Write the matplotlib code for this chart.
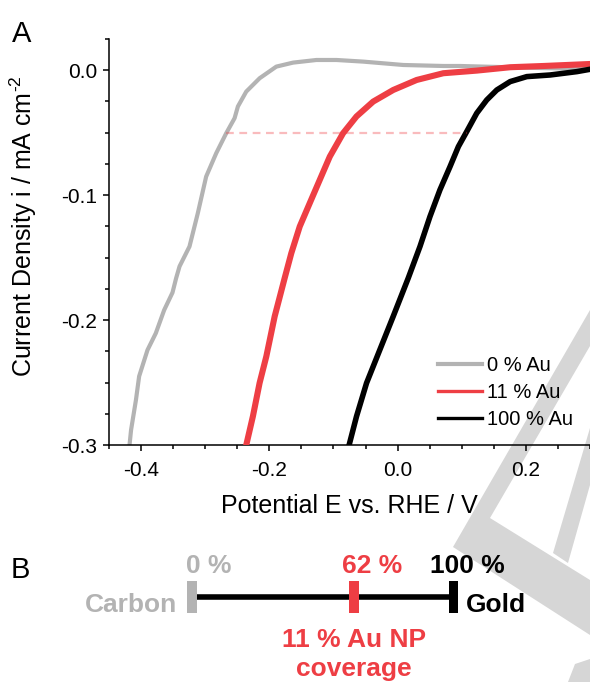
import matplotlib
matplotlib.use('Agg')
import matplotlib.pyplot as plt
from matplotlib.lines import Line2D
from matplotlib.patches import Polygon
from matplotlib.ticker import MultipleLocator, FormatStrFormatter

plt.rcParams['font.family'] = ['Liberation Sans', 'DejaVu Sans']
plt.rcParams['axes.unicode_minus'] = False

# ---------------- data (panel A) ----------------
e_0au = [-0.418, -0.4156, -0.408, -0.403, -0.390, -0.377, -0.364, -0.351, -0.3453, -0.340,
         -0.3245, -0.3115, -0.2985, -0.2828, -0.2672, -0.2542, -0.249, -0.236, -0.2151, -0.1891,
         -0.163, -0.1266, -0.0953, -0.0537, 0.0088, 0.0713, 0.0974, 0.200, 0.300]
i_0au = [-0.300, -0.288, -0.264, -0.245, -0.224, -0.2105, -0.192, -0.178, -0.1664, -0.157,
         -0.1411, -0.1144, -0.0851, -0.0664, -0.0504, -0.0384, -0.029, -0.0171, -0.0064, 0.0029,
         0.0061, 0.0082, 0.0082, 0.0069, 0.0042, 0.0034, 0.0034, 0.002, 0.001]

e_11au = [-0.236, -0.2256, -0.2152, -0.2047, -0.1917, -0.1761, -0.1657, -0.1526, -0.137, -0.1214,
          -0.1057, -0.085, -0.0641, -0.0381, -0.0068, 0.0297, 0.0713, 0.1234, 0.1755, 0.2276,
          0.3005]
i_11au = [-0.300, -0.277, -0.2504, -0.2291, -0.1971, -0.1664, -0.1464, -0.1251, -0.1064, -0.0878,
          -0.0691, -0.0504, -0.037, -0.0251, -0.0158, -0.0078, -0.0024, -0.0003, 0.0024, 0.0034,
          0.005]

e_100au = [-0.0756, -0.064, -0.0484, -0.0277, -0.0069, 0.0166, 0.0349, 0.0505, 0.066, 0.0818,
           0.0948, 0.1078, 0.1234, 0.139, 0.1547, 0.1755, 0.2015, 0.238, 0.2797, 0.3005]
i_100au = [-0.300, -0.277, -0.2504, -0.2238, -0.1971, -0.1664, -0.1411, -0.1171, -0.0958, -0.0771,
           -0.0611, -0.0491, -0.0344, -0.0238, -0.0158, -0.0091, -0.0051, -0.0038, -0.0011, 0.0008]

ref_current = -0.05
ref_e = [-0.267, 0.108]

series_labels = ['0 % Au', '11 % Au', '100 % Au']
GRAY = '#b3b3b3'
RED = '#ee3e44'
BLACK = '#000000'

# ---------------- data (panel B) ----------------
cov_vals = [0, 62, 100]
cov_labels = ['0 %', '62 %', '100 %']
cov_colors = [GRAY, RED, BLACK]
end_labels = ['Carbon', 'Gold']
np_label = ['11 % Au NP', 'coverage']

W, H = 590, 682
fig = plt.figure(figsize=(W / 100, H / 100), dpi=100)
fig.patch.set_facecolor('white')

# background watermark (pixel coords)
ax_bg = fig.add_axes([0, 0, 1, 1], zorder=-5)
ax_bg.set_xlim(0, W)
ax_bg.set_ylim(H, 0)
ax_bg.axis('off')
wm = '#d6d6d6'
for pts in ([(590, 310), (453, 547), (590, 635), (590, 580), (490, 518), (590, 346)],
            [(590, 428), (553, 553), (568, 563), (590, 485)],
            [(575, 664), (590, 659), (590, 682), (568, 682)]):
    ax_bg.add_patch(Polygon(pts, closed=True, facecolor=wm, edgecolor='none'))

# ---------------- panel A ----------------
ax = fig.add_axes([109 / W, 1 - 445 / H, (W - 109) / W, (445 - 39) / H])
ax.set_facecolor('none')
ax.plot(e_0au, i_0au, color=GRAY, lw=3.0, solid_joinstyle='round', zorder=2)
ax.plot(e_11au, i_11au, color=RED, lw=4.4, solid_joinstyle='round', zorder=3)
ax.plot(e_100au, i_100au, color=BLACK, lw=4.0, solid_joinstyle='round', zorder=4)
ax.plot(ref_e, [ref_current, ref_current], color=RED, alpha=0.35, lw=1.6,
        dashes=(3.5, 2.5), zorder=5)

ax.set_xlim(-0.45, 0.30)
ax.set_ylim(-0.30, 0.025)
ax.xaxis.set_major_locator(MultipleLocator(0.2))
ax.xaxis.set_minor_locator(MultipleLocator(0.05))
ax.yaxis.set_major_locator(MultipleLocator(0.1))
ax.yaxis.set_minor_locator(MultipleLocator(0.025))
ax.xaxis.set_major_formatter(FormatStrFormatter('%.1f'))
ax.yaxis.set_major_formatter(FormatStrFormatter('%.1f'))
for s in ('top', 'right'):
    ax.spines[s].set_visible(False)
for s in ('left', 'bottom'):
    ax.spines[s].set_linewidth(1.1)
ax.tick_params(which='major', direction='out', length=4.5, width=1.1, labelsize=15, pad=4)
ax.tick_params(axis='x', which='major', pad=7)
ax.tick_params(which='minor', direction='out', length=2.6, width=1.1)
ax.set_xlabel('Potential E vs. RHE / V', fontsize=18)
ax.set_ylabel('Current Density i / mA cm$^{\\mathregular{\u2010 2}}$', fontsize=18)
ax.xaxis.set_label_coords(0.5, -0.12)
ax.yaxis.set_label_coords(-0.145, 0.54)

handles = [Line2D([], [], color=GRAY, lw=3.0),
           Line2D([], [], color=RED, lw=2.4),
           Line2D([], [], color=BLACK, lw=2.4)]
fig.legend(handles, series_labels, loc='upper left', bbox_to_anchor=(438 / W, 1 - 356 / H),
           frameon=False, fontsize=14.5, borderpad=0, borderaxespad=0, handlelength=2.2,
           handletextpad=0.25, labelspacing=0.4)

fig.text(12 / W, 1 - 42 / H, 'A', fontsize=21, va='baseline', ha='left')
fig.text(11 / W, 1 - 578 / H, 'B', fontsize=21, va='baseline', ha='left')

# ---------------- panel B ----------------
ppx = 2.615  # pixels per percent
axb = fig.add_axes([0, 0, 1, 1], zorder=2)
axb.set_xlim(-192 / ppx, (W - 192) / ppx)
axb.set_ylim(H, 0)
axb.axis('off')
axb.plot([cov_vals[0], cov_vals[-1]], [597, 597], color='black', lw=4.0,
         solid_capstyle='butt', zorder=1)
axb.bar(cov_vals, height=32, bottom=581, width=3.6, color=cov_colors, zorder=2)
label_dx = [-2.3, -4.6, -8.8]
for v, lab, c, dx in zip(cov_vals, cov_labels, cov_colors, label_dx):
    axb.text(v + dx, 573, lab, color=c, fontsize=19, fontweight='bold',
             ha='left', va='baseline')
axb.text(cov_vals[0] - 5.7, 612, end_labels[0], color=GRAY, fontsize=19,
         fontweight='bold', ha='right', va='baseline')
axb.text(cov_vals[-1] + 4.6, 612, end_labels[1], color=BLACK, fontsize=19,
         fontweight='bold', ha='left', va='baseline')
axb.text(cov_vals[1], 647, np_label[0], color=RED, fontsize=19, fontweight='bold',
         ha='center', va='baseline')
axb.text(cov_vals[1], 676, np_label[1], color=RED, fontsize=19, fontweight='bold',
         ha='center', va='baseline')

fig.savefig('out.png', dpi=100)
